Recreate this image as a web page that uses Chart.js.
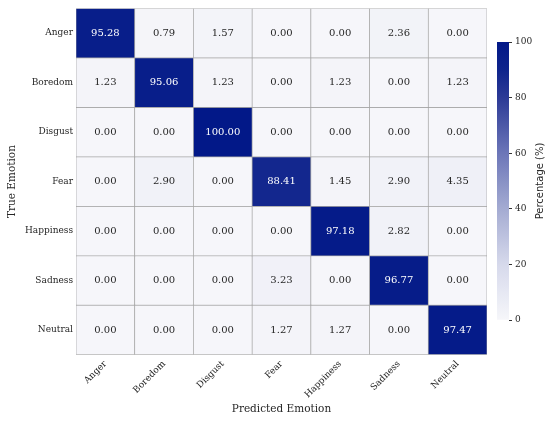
<!DOCTYPE html>
<html><head><meta charset="utf-8">
<script src="https://cdn.jsdelivr.net/npm/chart.js@4"></script>
<style>
html,body{margin:0;padding:0;background:#fff;}
#wrap{position:relative;width:550px;height:421px;}
#main{position:absolute;left:0;top:0;}
#cbar{position:absolute;left:490px;top:30px;}
</style></head><body>
<div id="wrap"><canvas id="main" width="550" height="421"></canvas><canvas id="cbar" width="60" height="305"></canvas></div>
<script>
const trueLabels = ['Anger','Boredom','Disgust','Fear','Happiness','Sadness','Neutral'];
const predLabels = ['Anger','Boredom','Disgust','Fear','Happiness','Sadness','Neutral'];
const angerRow     = [95.28, 0.79, 1.57, 0.00, 0.00, 2.36, 0.00];
const boredomRow   = [1.23, 95.06, 1.23, 0.00, 1.23, 0.00, 1.23];
const disgustRow   = [0.00, 0.00, 100.00, 0.00, 0.00, 0.00, 0.00];
const fearRow      = [0.00, 2.90, 0.00, 88.41, 1.45, 2.90, 4.35];
const happinessRow = [0.00, 0.00, 0.00, 0.00, 97.18, 2.82, 0.00];
const sadnessRow   = [0.00, 0.00, 0.00, 3.23, 0.00, 96.77, 0.00];
const neutralRow   = [0.00, 0.00, 0.00, 1.27, 1.27, 0.00, 97.47];
const colorbarTicks = [0, 20, 40, 60, 80, 100];
const colorbarTitle = 'Percentage (%)';

const rows = [angerRow, boredomRow, disgustRow, fearRow, happinessRow, sadnessRow, neutralRow];

// colormap stops (style)
const CMAP = [
  [0,   [246, 246, 250]],
  [20,  [214, 217, 235]],
  [40,  [164, 171, 210]],
  [60,  [108, 118, 184]],
  [80,  [44, 58, 150]],
  [90,  [14, 36, 140]],
  [100, [2, 24, 136]]
];
function colorFor(v) {
  v = Math.max(0, Math.min(100, v));
  for (let i = 1; i < CMAP.length; i++) {
    const [v1, c1] = CMAP[i], [v0, c0] = CMAP[i - 1];
    if (v <= v1) {
      const t = (v - v0) / (v1 - v0);
      const c = c0.map((a, k) => Math.round(a + (c1[k] - a) * t));
      return `rgb(${c[0]},${c[1]},${c[2]})`;
    }
  }
  const c = CMAP[CMAP.length - 1][1];
  return `rgb(${c[0]},${c[1]},${c[2]})`;
}
const SERIF = "'DejaVu Serif', serif";

const datasets = rows.map((row, r) => ({
  label: trueLabels[r],
  data: predLabels.map(() => [r, r + 1]),
  values: row,
  backgroundColor: row.map(colorFor),
  borderColor: '#a4a4a4',
  borderWidth: 0.7,
  borderSkipped: false,
  grouped: false,
  barPercentage: 1,
  categoryPercentage: 1
}));

const cellText = {
  id: 'cellText',
  afterDatasetsDraw(chart) {
    const ctx = chart.ctx;
    ctx.save();
    ctx.font = "10px " + SERIF;
    ctx.textAlign = 'center';
    ctx.textBaseline = 'middle';
    chart.data.datasets.forEach((ds, di) => {
      chart.getDatasetMeta(di).data.forEach((el, j) => {
        const v = ds.values[j];
        const p = el.getCenterPoint();
        ctx.fillStyle = v > 50 ? '#ffffff' : '#262626';
        ctx.fillText(v.toFixed(2), p.x, p.y);
      });
    });
    ctx.restore();
  }
};

new Chart(document.getElementById('main'), {
  type: 'bar',
  data: { labels: predLabels, datasets },
  options: {
    responsive: false,
    animation: false,
    layout: { padding: { left: 0, top: 6.5, right: 63, bottom: 0 } },
    plugins: { legend: { display: false }, tooltip: { enabled: false } },
    scales: {
      x: {
        type: 'category',
        grid: { display: false, drawTicks: false },
        border: { display: false },
        ticks: { maxRotation: 45, minRotation: 45, padding: 4, color: '#262626', font: { family: SERIF, size: 9 } },
        title: { display: true, text: 'Predicted Emotion', color: '#262626', font: { family: SERIF, size: 10.5 }, padding: { top: 0, bottom: 5 } },
        afterFit(s) { s.height = 66.3; }
      },
      y: {
        type: 'linear', min: 0, max: 7, reverse: true,
        grid: { display: false, drawTicks: false },
        border: { display: false },
        afterBuildTicks(s) { s.ticks = trueLabels.map((_, i) => ({ value: i + 0.5 })); },
        ticks: { padding: 3, color: '#262626', font: { family: SERIF, size: 9 },
          callback: (v) => trueLabels[Math.round(v - 0.5)] },
        title: { display: true, text: 'True Emotion', color: '#262626', font: { family: SERIF, size: 10.5 }, padding: { top: 6, bottom: 0 } },
        afterFit(s) { s.width = 76; }
      }
    }
  },
  plugins: [cellText]
});

const cbarTitle = {
  id: 'cbarTitle',
  afterDraw(chart) {
    const ctx = chart.ctx, ca = chart.chartArea;
    ctx.save();
    ctx.translate(50, (ca.top + ca.bottom) / 2);
    ctx.rotate(-Math.PI / 2);
    ctx.font = "10px 'DejaVu Sans', sans-serif";
    ctx.fillStyle = '#262626';
    ctx.textAlign = 'center';
    ctx.textBaseline = 'middle';
    ctx.fillText(colorbarTitle, 0, 0);
    ctx.restore();
  }
};

new Chart(document.getElementById('cbar'), {
  type: 'bar',
  data: {
    labels: [''],
    datasets: [{
      data: [[colorbarTicks[0], colorbarTicks[colorbarTicks.length - 1]]],
      barPercentage: 1, categoryPercentage: 1, borderWidth: 0,
      backgroundColor(ctx) {
        const ca = ctx.chart.chartArea;
        if (!ca) return colorFor(50);
        const g = ctx.chart.ctx.createLinearGradient(0, ca.bottom, 0, ca.top);
        for (let i = 0; i <= 20; i++) g.addColorStop(i / 20, colorFor(i * 5));
        return g;
      }
    }]
  },
  options: {
    responsive: false,
    animation: false,
    layout: { padding: { left: 7, top: 12, bottom: 15, right: 0 } },
    plugins: { legend: { display: false }, tooltip: { enabled: false } },
    scales: {
      x: { display: false },
      y: {
        position: 'right', min: 0, max: 100,
        afterBuildTicks(s) { s.ticks = colorbarTicks.map(v => ({ value: v })); },
        grid: { drawOnChartArea: false, drawTicks: true, tickLength: 3, tickColor: '#333' },
        border: { display: false },
        ticks: { padding: 3, color: '#262626', font: { family: SERIF, size: 9 } },
        afterFit(s) { s.width = 41; }
      }
    }
  },
  plugins: [cbarTitle]
});
</script>
</body></html>
